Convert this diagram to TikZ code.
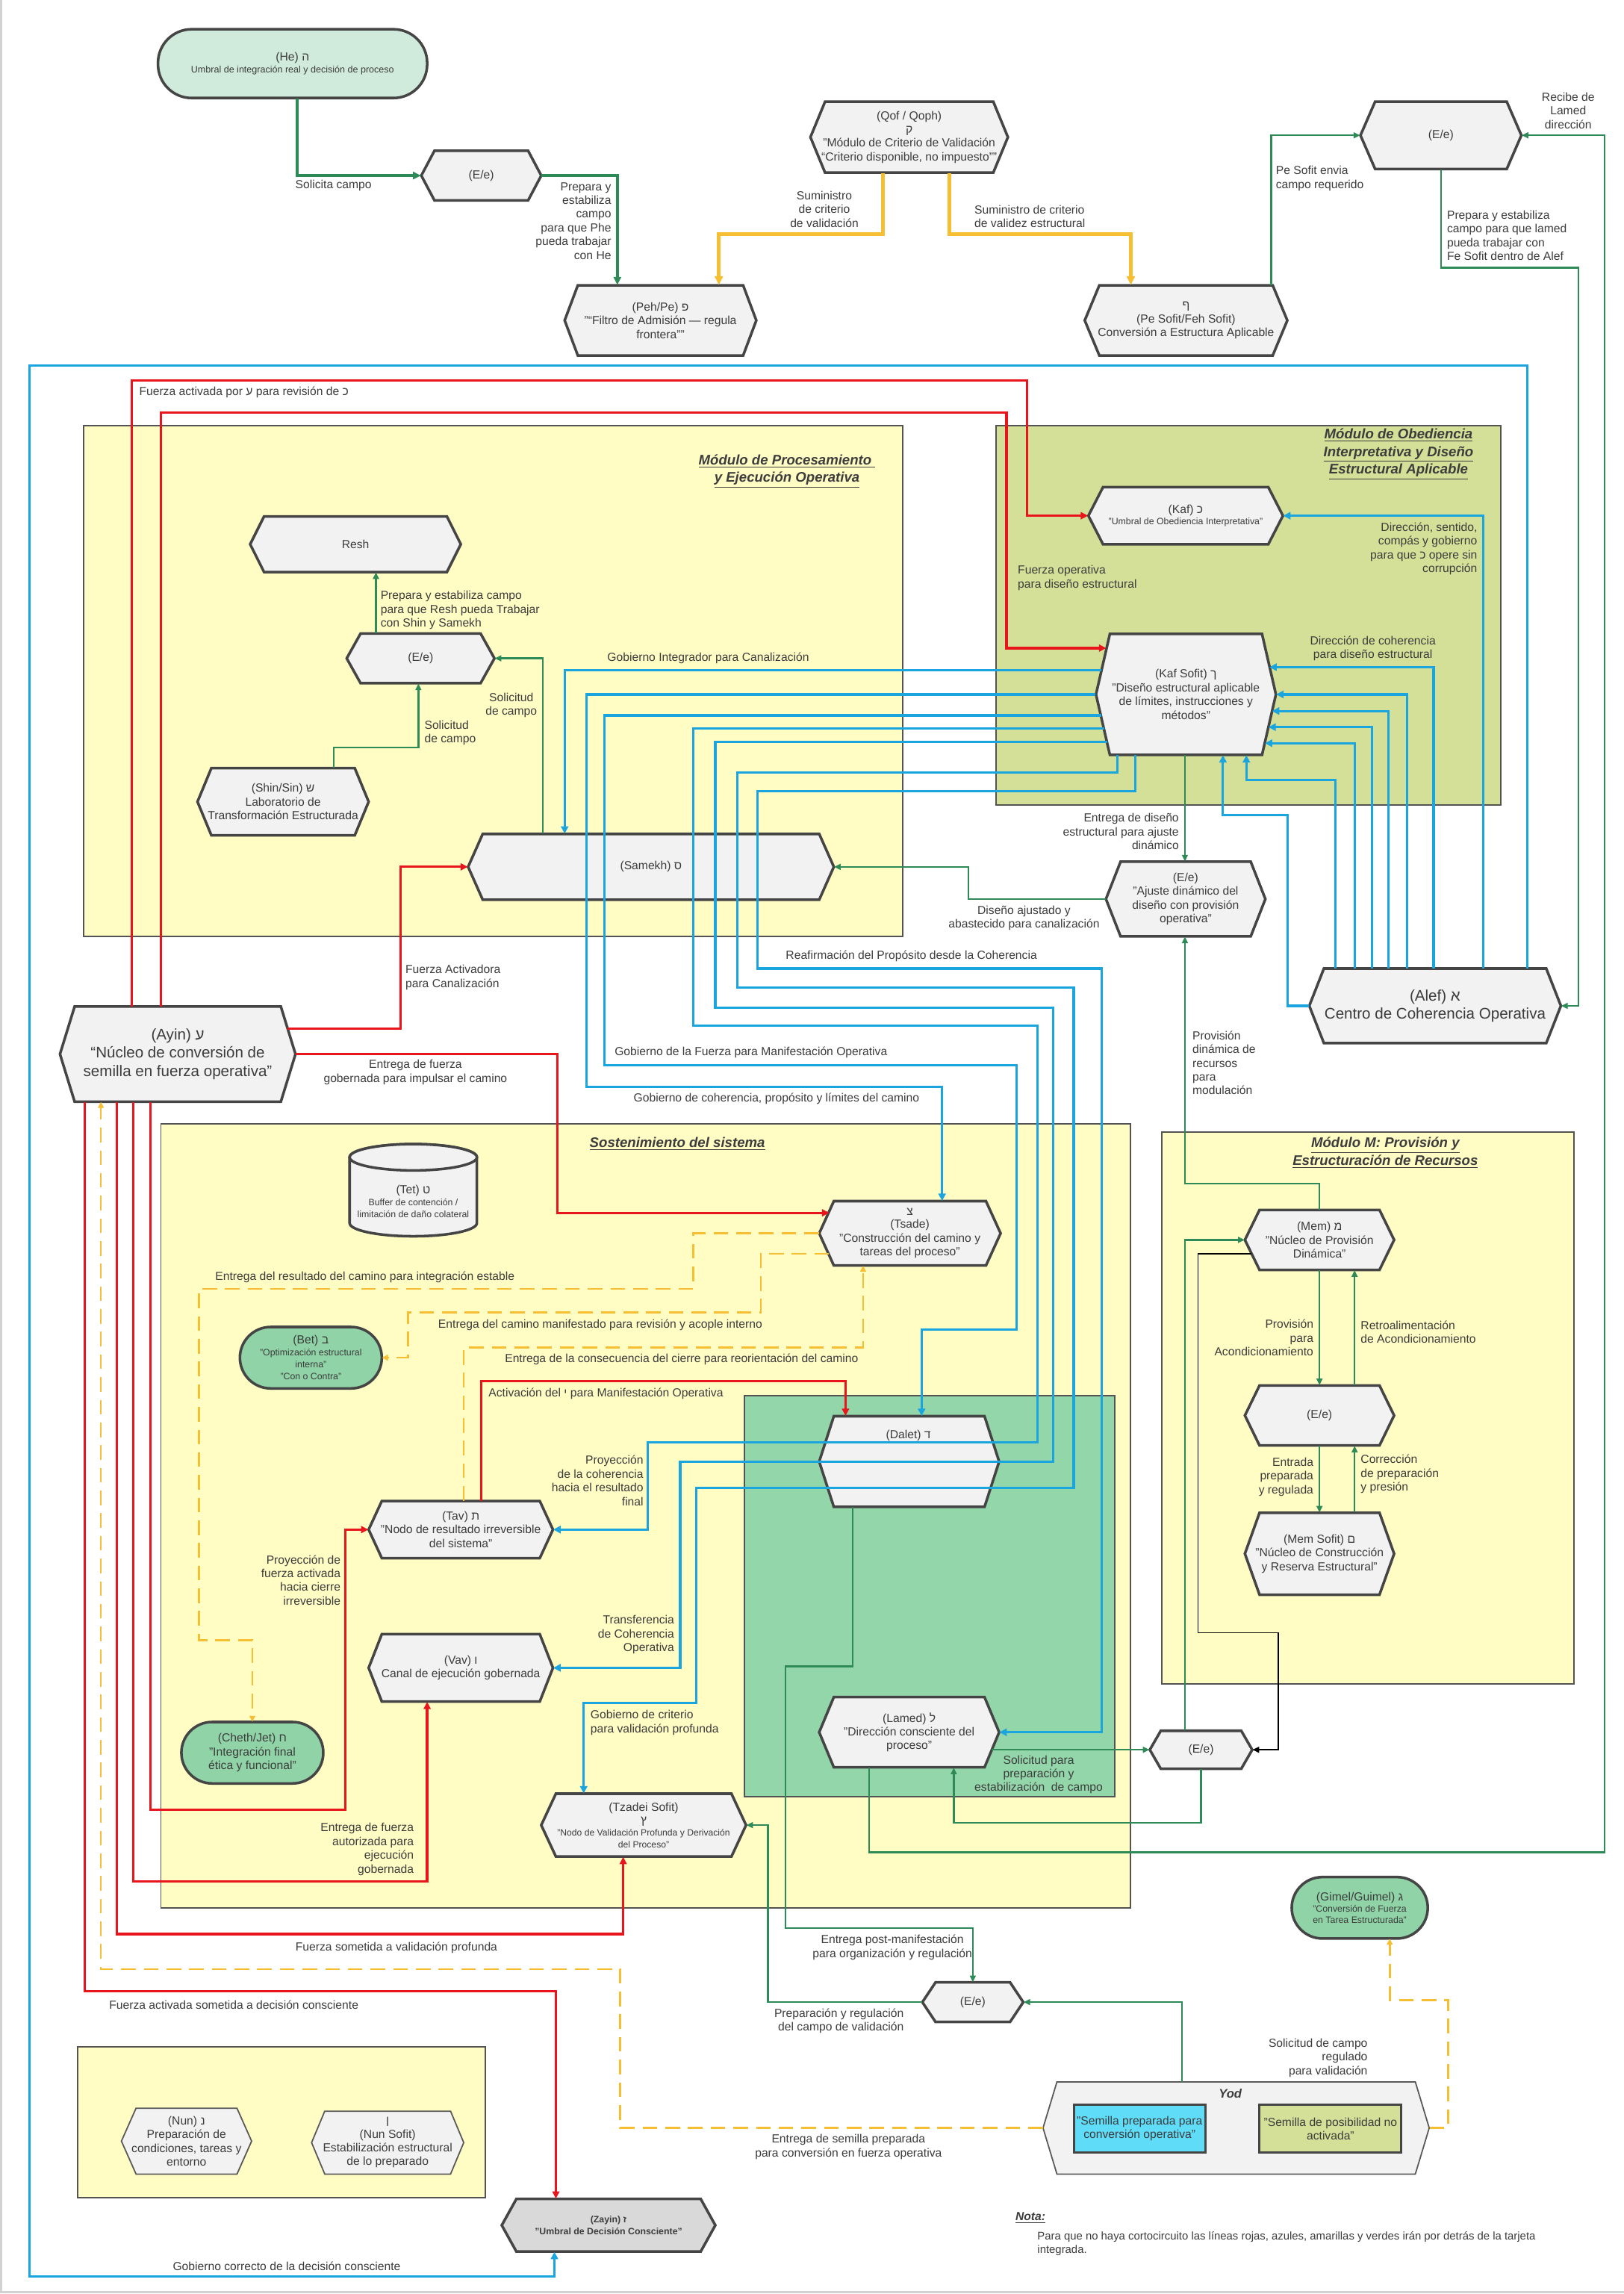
\documentclass[tikz,border=0pt]{standalone}
\usepackage{fontspec}
\setmainfont{Liberation Sans}
\usetikzlibrary{arrows.meta}
\definecolor{cred}{HTML}{E8161C}
\definecolor{cblue}{HTML}{1AA5DE}
\definecolor{cyel}{HTML}{F6BE33}
\definecolor{cgrn}{HTML}{2E8B57}
\definecolor{hexfill}{HTML}{F2F2F2}
\definecolor{hexline}{HTML}{454545}
\definecolor{modyel}{HTML}{FFFCC4}
\definecolor{modolive}{HTML}{D4E098}
\definecolor{modgreen}{HTML}{92D6AA}
\definecolor{lightmint}{HTML}{D0EADB}
\definecolor{midgreen}{HTML}{8FD3A7}
\definecolor{txt}{HTML}{3C3C3C}
\definecolor{cyanbox}{HTML}{5FDCF7}
\definecolor{zaygrey}{HTML}{D9D9D9}
\newcommand\flbl{\fontsize{8}{9.4}\selectfont}
\newcommand\fsm{\fontsize{6.3}{7.3}\selectfont}
\newcommand\fbig{\fontsize{10.5}{12.3}\selectfont}
\newcommand\ftitle{\fontsize{9.5}{12}\selectfont\bfseries\itshape}
\newcommand\fzay{\fontsize{6.3}{8}\selectfont\bfseries}
\tikzset{
 hexsty/.style={draw=hexline, fill=hexfill, line width=1.8pt},
 thinhex/.style={draw=gray!70!black, line width=0.9pt},
 hextxt/.style={inner sep=0pt, align=center, font=\flbl, text=txt},
 lbl/.style={font=\flbl, text=txt, align=left, inner sep=0pt},
 lblr/.style={lbl, align=right},
 lblc/.style={lbl, align=center},
 rline/.style={draw=cred, line width=1.7pt, -{Triangle[length=5pt,width=4.8pt]}},
 bline/.style={draw=cblue, line width=1.6pt, -{Triangle[length=5pt,width=5pt]}},
 gline/.style={draw=cgrn, line width=1.2pt, -{Triangle[length=4.5pt,width=4pt]}},
 gthick/.style={draw=cgrn, line width=2.2pt, -{Triangle[length=5.5pt,width=5pt]}},
 yline/.style={draw=cyel, line width=2.6pt, -{Triangle[length=6pt,width=5.5pt]}},
 ydash/.style={draw=cyel, line width=1.3pt, dash pattern=on 10pt off 5.5pt, -{Triangle[length=4pt,width=4pt]}},
 kline/.style={draw=black, line width=0.9pt, -{Triangle[length=4.5pt,width=4pt]}},
 module/.style={draw=gray!65!black, line width=1pt},
 mtitle/.style={font=\ftitle, text=txt, align=center, inner sep=0pt},
}
% hexagon: [draw opts]{name}{x1}{y1}{x2}{y2}{inset}{node opts}{text}
\newcommand{\hexnode}[9][]{%
  \draw[hexsty,#1] ({#3+#7},#4) -- ({#5-#7},#4) -- (#5,{(#4+#6)/2}) -- ({#5-#7},#6) -- ({#3+#7},#6) -- (#3,{(#4+#6)/2}) -- cycle;
  \node[hextxt,#8,minimum width={(#5-#3)*1pt},minimum height={(#6-#4)*1pt}] (#2) at ({(#3+#5)/2},{(#4+#6)/2}) {#9};}
\newcommand{\stadnode}[9][]{%
  \draw[hexsty,#1,rounded corners=#7pt] (#3,#4) rectangle (#5,#6);
  \node[hextxt,#8,minimum width={(#5-#3)*1pt},minimum height={(#6-#4)*1pt}] (#2) at ({(#3+#5)/2},{(#4+#6)/2}) {#9};}
\begin{document}
\begin{tikzpicture}[x=1pt,y=-1pt]
\useasboundingbox (0,0) rectangle (1110,1568);
\fill[white] (0,0) rectangle (1110,1568);
\draw[gray!35, line width=1.5pt] (0.75,0) -- (0.75,1566.5) -- (1110,1566.5);

% ---------- modules ----------
\draw[module, fill=modyel] (57,291) rectangle (617,640);
\draw[module, fill=modolive] (681,291) rectangle (1026,550);
\draw[module, fill=modyel] (110,768) rectangle (773,1304);
\draw[module, fill=modgreen] (509,954) rectangle (762,1228);
\draw[module, fill=modyel] (794,774) rectangle (1076,1151);
\draw[module, fill=modyel] (53,1399) rectangle (332,1502);
\node[mtitle] (tproc) at (538,322) {\underline{Módulo de Procesamiento }\\\underline{y Ejecución Operativa}};
\node[mtitle] (tobed) at (956,310.5) {\underline{Módulo de Obediencia}\\\underline{Interpretativa y Diseño}\\\underline{Estructural Aplicable}};
\node[mtitle] (tsost) at (463,782) {\underline{Sostenimiento del sistema}};
\node[mtitle] (tmodm) at (947,788) {\underline{Módulo M: Provisión y}\\\underline{Estructuración de Recursos}};

% ---------- nodes ----------
\stadnode[fill=lightmint]{he}{108}{20}{292}{67}{23}{}{(He) ה\\[-1pt]{\fontsize{6.4}{7.5}\selectfont Umbral de integración real y decisión de proceso}}
\hexnode{ee1}{288}{103}{370}{137}{9}{}{(E/e)}
\hexnode{peh}{386}{195}{517}{243}{9}{}{(Peh/Pe) פ\\"“Filtro de Admisión — regula\\frontera”"}
\hexnode{qof}{554}{69.5}{689}{118}{10}{}{(Qof / Qoph)\\ק\\"Módulo de Criterio de Validación\\“Criterio disponible, no impuesto”"}
\hexnode{pesof}{741.5}{195}{880}{243}{10}{}{ף\\(Pe Sofit/Feh Sofit)\\Conversión a Estructura Aplicable}
\hexnode{ee2}{930}{69.5}{1040}{115.5}{10}{}{(E/e)}
\hexnode{resh}{171}{353}{315}{391}{9.5}{}{Resh}
\hexnode{ee3}{237}{433}{338}{467}{9.5}{}{(E/e)}
\hexnode{shin}{135}{525}{252}{571}{9.5}{}{(Shin/Sin) ש\\Laboratorio de\\Transformación Estructurada}
\hexnode{samekh}{320}{570}{570}{615}{10}{}{(Samekh) ס}
\hexnode{kaf}{744}{333}{877}{372}{10}{}{(Kaf) כ\\[-1.5pt]{\fsm "Umbral de Obediencia Interpretativa"}}
\hexnode{kafs}{749.2}{433.3}{872.2}{516}{9.5}{}{(Kaf Sofit) ך\\"Diseño estructural aplicable\\de límites, instrucciones y\\métodos"}
\hexnode{ee4}{756}{589}{865}{640}{10}{}{(E/e)\\"Ajuste dinámico del\\diseño con provisión\\operativa"}
\hexnode{alef}{895}{662}{1067}{713}{10}{font=\fbig}{(Alef) א\\Centro de Coherencia Operativa}
\hexnode{ayin}{41}{688}{202}{753}{10}{font=\fbig}{(Ayin) ע\\“Núcleo de conversión de\\semilla en fuerza operativa”}
% Tet cylinder
\draw[hexsty] (239,791) -- (239,836) arc[start angle=180,end angle=0,x radius=43.5,y radius=9] -- (326,791) arc[start angle=0,end angle=-180,x radius=43.5,y radius=9] -- cycle;
\draw[hexsty] (282.5,791) ellipse [x radius=43.5, y radius=9];
\node[hextxt] (tet) at (282.5,821) {(Tet) ט\\[-1pt]{\fsm Buffer de contención /}\\[-1.5pt]{\fsm limitación de daño colateral}};
\hexnode{tsade}{560}{821}{684}{865}{10}{}{צ\\[-0.5pt](Tsade)\\"Construcción del camino y\\tareas del proceso"}
\stadnode[fill=midgreen]{bet}{164}{907}{261}{949}{21}{}{(Bet) ב\\[-1.3pt]{\fsm "Optimización estructural}\\[-1.3pt]{\fsm interna"}\\[-1.3pt]{\fsm "Con o Contra"}}
\hexnode{dalet}{560}{968}{683}{1030}{10}{}{}
\node[hextxt] (daletlbl) at (621,981) {(Dalet) ד};
\hexnode{tav}{252}{1026}{378}{1065}{9}{}{(Tav) ת\\"Nodo de resultado irreversible\\del sistema"}
\hexnode{vav}{252}{1117}{378}{1163}{9}{}{(Vav) ו\\Canal de ejecución gobernada}
\stadnode[fill=midgreen]{cheth}{124}{1177}{221}{1219}{21}{}{(Cheth/Jet) ח\\"Integración final\\ética y funcional"}
\hexnode{tzs}{370}{1226}{510}{1269}{10}{}{(Tzadei Sofit)\\[-0.5pt]ץ\\[-1.6pt]{\fontsize{6.2}{7.2}\selectfont "Nodo de Validación Profunda y Derivación}\\[-1.2pt]{\fontsize{6.2}{7.2}\selectfont del Proceso"}}
\hexnode{lamed}{560}{1160}{683}{1208}{10}{}{(Lamed) ל\\"Dirección consciente del\\proceso"}
\hexnode{ee6}{786}{1183}{856}{1209}{7.5}{}{(E/e)}
\hexnode{mem}{851}{827}{953}{868}{10}{}{(Mem) מ\\"Núcleo de Provisión\\Dinámica"}
\hexnode{ee5}{851}{947}{953}{988}{10}{}{(E/e)}
\hexnode{mems}{851}{1034}{953}{1090}{10}{}{(Mem Sofit) ם\\"Núcleo de Construcción\\y Reserva Estructural"}
\stadnode[fill=midgreen]{gimel}{883}{1283}{976}{1325}{21}{}{(Gimel/Guimel) ג\\[-1.3pt]{\fsm "Conversión de Fuerza}\\[-1.8pt]{\fsm en Tarea Estructurada"}}
\hexnode{ee7}{630.5}{1355}{699.5}{1382}{9}{}{(E/e)}
\hexnode[thinhex]{yod}{713}{1423}{977}{1486}{9.5}{}{}
\node[font=\fontsize{8.5}{10}\selectfont\bfseries\itshape, text=txt, inner sep=0pt] (yodt) at (841,1431) {Yod};
\node[draw=hexline, line width=1.5pt, fill=cyanbox, minimum width=90pt, minimum height=32.7pt, inner sep=0pt, align=center, font=\flbl, text=txt] (seed1) at (779,1455) {"Semilla preparada para\\conversión operativa"};
\node[draw=hexline, line width=1.5pt, fill=modolive, minimum width=97pt, minimum height=32.7pt, inner sep=0pt, align=center, font=\flbl, text=txt] (seed2) at (909.5,1455) {"Semilla de posibilidad no\\activada"};
\hexnode[thinhex]{nun}{83}{1441}{172}{1486}{10}{}{(Nun) נ\\Preparación de\\condiciones, tareas y\\entorno}
\hexnode[thinhex]{nuns}{213}{1443}{317}{1486}{9}{}{ן\\(Nun Sofit)\\Estabilización estructural\\de lo preparado}
\hexnode[fill=zaygrey]{zayin}{343}{1503}{489}{1539}{10}{font=\fzay}{(Zayin) ז\\"Umbral de Decisión Consciente"}
\node[font=\fontsize{8}{9.4}\selectfont\bfseries\itshape, text=txt, inner sep=0pt, anchor=west] (nota) at (694,1516) {\underline{Nota:}};
\node[lbl, font=\fontsize{7.6}{9}\selectfont, anchor=west] (notatxt) at (709,1533.5) {Para que no haya cortocircuito las líneas rojas, azules, amarillas y verdes irán por detrás de la tarjeta\\integrada.};

% ---------- top connectors ----------
\draw[gthick] (he.south -| 203,0) |- (ee1.west);
\node[lblc] (lg1) at (228,127) {Solicita campo};
\draw[gthick] (ee1.east) -| (peh.north -| 422,0);
\node[lblr, anchor=east] (lg2) at (418,151) {Prepara y\\estabiliza\\campo\\para que Phe\\pueda trabajar\\con He};
\draw[yline] (qof.south -| 603.6,0) -- (603.6,160) -| (peh.north -| 491.4,0);
\node[lblc] (ly1) at (563.5,143) {Suministro\\de criterio\\de validación};
\draw[yline] (qof.south -| 649,0) -- (649,160) -| (pesof.north -| 773,0);
\node[lbl, anchor=west] (ly2) at (666,148) {Suministro de criterio\\de validez estructural};
\draw[gline] (pesof.north -| 869,0) |- (ee2.west);
\node[lbl, anchor=west] (lg3) at (872,122) {Pe Sofit envia\\campo requerido};
\draw[gline] (ee2.south) |- (1079,183) |- (alef.east);
\node[lbl, anchor=west] (lg4) at (989,161) {Prepara y estabiliza\\campo para que lamed\\pueda trabajar con\\Fe Sofit dentro de Alef};
\draw[gline] (lamed.south -| 594,0) |- (1097,1266) |- (ee2.east);
\node[lblc] (lg5) at (1072,75.7) {Recibe de\\Lamed\\dirección};

% ---------- blue frame ----------
\draw[bline] (alef.north -| 1044,0) |- (20,250) |- (379,1556) -- (zayin.south -| 379,0);
\node[lblc] (lbf) at (196,1549) {Gobierno correcto de la decisión consciente};

% ---------- red ----------
\draw[rline] (ayin.north -| 90,0) |- (702,260) |- (kaf.west);
\node[lbl, anchor=west] (lr1) at (95,268) {Fuerza activada por ע para revisión de כ};
\draw[rline] (ayin.north -| 110,0) |- (688,282) |- (756.2,443);
\node[lbl, anchor=west] (lr2) at (695.6,395) {Fuerza operativa\\para diseño estructural};
\draw[rline] (196.6,703) -| (274,592.5) -- (samekh.west);
\node[lbl, anchor=west] (lr3) at (277,668) {Fuerza Activadora\\para Canalización};
\draw[rline] (ayin.east) -| (381,829) -- (566.9,829);
\node[lblc] (lr4) at (284,733) {Entrega de fuerza\\gobernada para impulsar el camino};
\draw[rline] (ayin.south -| 58,0) |- (380,1361) -- (zayin.north -| 380,0);
\node[lbl, anchor=west] (lr5) at (74.5,1370.6) {Fuerza activada sometida a decisión consciente};
\draw[rline] (ayin.south -| 80,0) |- (426,1322) -- (tzs.south -| 426,0);
\node[lblc] (lr6) at (271,1331.3) {Fuerza sometida a validación profunda};
\draw[rline] (ayin.south -| 91,0) |- (292,1286) -- (vav.south -| 292,0);
\node[lblr, anchor=east] (lr7) at (283,1264) {Entrega de fuerza\\autorizada para\\ejecución\\gobernada};
\draw[rline] (ayin.south -| 103,0) |- (236,1237) |- (tav.west);
\node[lblr, anchor=east] (lr8) at (233,1080) {Proyección de\\fuerza activada\\hacia cierre\\irreversible};
\draw[rline] (tav.north -| 329,0) |- (578,944) -- (dalet.north -| 578,0);
\node[lbl, anchor=west] (lr9) at (333.8,952.5) {Activación del י para Manifestación Operativa};

% ---------- yellow dashed ----------
\draw[ydash] (yod.west) -| (424,1346) -| (ayin.south -| 69,0);
\node[lblc] (ly3) at (580,1467.5) {Entrega de semilla preparada\\para conversión en fuerza operativa};
\draw[ydash] (tsade.west) -| (474,881) -| (136,1121) -| (cheth.north);
\node[lbl, anchor=west] (ly4) at (147,873) {Entrega del resultado del camino para integración estable};
\draw[ydash] (566.7,857) -| (520,897) -| (279,928) -- (bet.east);
\node[lbl, anchor=west] (ly5) at (299.4,905.6) {Entrega del camino manifestado para revisión y acople interno};
\draw[ydash] (tav.north -| 317,0) |- (590,921) -- (tsade.south -| 590,0);
\node[lbl, anchor=west] (ly6) at (345,929) {Entrega de la consecuencia del cierre para reorientación del camino};
\draw[ydash] (yod.east) -| (990,1367) -| (gimel.south -| 950,0);

% ---------- blue from Alef ----------
\draw[bline] (alef.north -| 1014,0) |- (kaf.east);
\node[lblr, anchor=east] (lb1) at (1010,375) {Dirección, sentido,\\compás y gobierno\\para que כ opere sin\\corrupción};
\draw[bline] (alef.north -| 980,0) |- (867.8,456);
\node[lblc] (lb2) at (938.5,443.3) {Dirección de coherencia\\para diseño estructural};
\draw[bline] (alef.north -| 962,0) |- (kafs.east);
\draw[bline] (alef.north -| 949,0) |- (869.5,486);
\draw[bline] (alef.north -| 938,0) |- (867.1,497);
\draw[bline] (alef.north -| 926,0) |- (864.7,508);
\draw[bline] (alef.north -| 913,0) |- (852,533) -- (kafs.south -| 852,0);
\draw[bline] (alef.west) -| (880,557) -| (kafs.south -| 836,0);

% ---------- blue from Kaf Sofit ----------
\draw[bline] (752.8,458) -| (samekh.north -| 386,0);
\node[lbl, anchor=west] (lb3) at (415,450) {Gobierno Integrador para Canalización};
\draw[bline] (kafs.west) -| (401,743) -| (tsade.north -| 644,0);
\node[lbl, anchor=west] (lb4) at (433,751) {Gobierno de coherencia, propósito y límites del camino};
\draw[bline] (752.8,489) -| (413,728) -| (695,909) -| (dalet.north -| 630,0);
\node[lbl, anchor=west] (lb5) at (420,719.5) {Gobierno de la Fuerza para Manifestación Operativa};
\draw[bline] (754.8,498) -| (474,701) -| (709,986) -| (443,1045.5) -- (tav.east);
\node[lblr, anchor=east] (lb6) at (440,1012) {Proyección\\de la coherencia\\hacia el resultado\\final};
\draw[bline] (756.9,507) -| (489,689) -| (720,999) -| (465,1140) -- (vav.east);
\node[lblr, anchor=east] (lb7) at (461,1117.4) {Transferencia\\de Coherencia\\Operativa};
\draw[bline] (kafs.south -| 764,0) |- (504,528) |- (734,675) |- (476,1017) |- (399,1164) -- (tzs.north -| 399,0);
\node[lbl, anchor=west] (lb8) at (403.5,1177.5) {Gobierno de criterio\\para validación profunda};
\draw[bline] (kafs.south -| 776,0) |- (518,541) |- (753,662) |- (lamed.east);
\node[lbl, anchor=west] (lb9) at (537,653.5) {Reafirmación del Propósito desde la Coherencia};

% ---------- green inner ----------
\draw[gline] (ee3.north -| 257,0) -- (resh.south -| 257,0);
\node[lbl, anchor=west] (lg6) at (260,417) {Prepara y estabiliza campo\\para que Resh pueda Trabajar\\con Shin y Samekh};
\draw[gline] (shin.north -| 228,0) |- (286,511) -- (ee3.south -| 286,0);
\node[lbl, anchor=west] (lg7) at (290,501) {Solicitud\\de campo};
\draw[gline] (samekh.north -| 371,0) |- (ee3.east);
\node[lblc] (lg8) at (349.5,482) {Solicitud\\de campo};
\draw[gline] (kafs.south -| 810,0) -- (ee4.north -| 810,0);
\node[lblr, anchor=east] (lg9) at (806,568.5) {Entrega de diseño\\estructural para ajuste\\dinámico};
\draw[gline] (ee4.west) -| (662,592.5) -- (samekh.east);
\node[lblc] (lg10) at (700,627.5) {Diseño ajustado y\\abastecido para canalización};
\draw[gline] (mem.north) |- (810,809) -- (ee4.south -| 810,0);
\node[lbl, anchor=west] (lg11) at (815,726.5) {Provisión\\dinámica de\\recursos\\para\\modulación};
\draw[gline] (mem.south) -- (ee5.north);
\node[lblr, anchor=east] (lg12) at (898,914.5) {Provisión\\para\\Acondicionamiento};
\draw[gline] (ee5.north -| 926,0) -- (mem.south -| 926,0);
\node[lbl, anchor=west] (lg13) at (930,910.4) {Retroalimentación\\de Acondicionamiento};
\draw[gline] (ee5.south) -- (mems.north);
\node[lblr, anchor=east] (lg14) at (898,1009.5) {Entrada\\preparada\\y regulada};
\draw[gline] (mems.north -| 926,0) -- (ee5.south -| 926,0);
\node[lbl, anchor=west] (lg15) at (930,1007.5) {Corrección\\de preparación\\y presión};
\draw[gline] (ee6.north -| 810,0) |- (mem.west);
\draw[kline] (855.6,857) -| (819,1116) -| (874,1196) -- (ee6.east);
\draw[gline] (678,1196) -- (ee6.west);
\node[lblc] (lg16) at (710,1213) {Solicitud para\\preparación y\\estabilización\ \ de campo};
\draw[gline] (ee6.south) |- (652,1246) -- (lamed.south -| 652,0);
\draw[gline] (dalet.south -| 583,0) |- (537,1139) |- (665,1318) -- (ee7.north);
\node[lblc] (lg17) at (610,1331) {Entrega post-manifestación\\para organización y regulación};
\draw[gline] (ee7.west) -| (525,1247.5) -- (tzs.east);
\node[lblr, anchor=east] (lg18) at (618,1381.5) {Preparación y regulación\\del campo de validación};
\draw[gline] (yod.north -| 808,0) |- (ee7.east);
\node[lblr, anchor=east] (lg19) at (935,1406.5) {Solicitud de campo\\regulado\\para validación};
\end{tikzpicture}
\end{document}
